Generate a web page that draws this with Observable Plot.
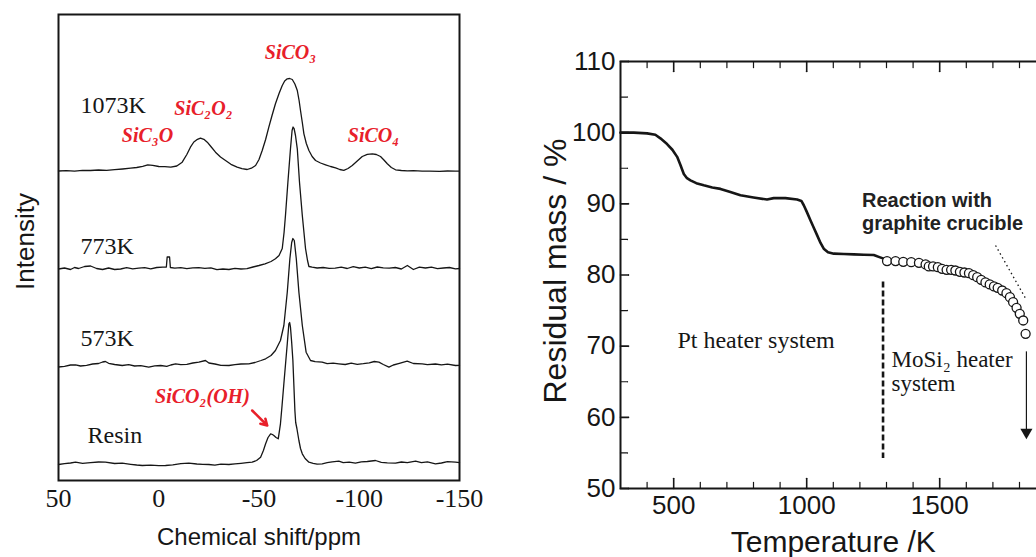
<!DOCTYPE html>
<html><head><meta charset="utf-8">
<script src="https://cdn.jsdelivr.net/npm/d3@7"></script>
<script src="https://cdn.jsdelivr.net/npm/@observablehq/plot@0.6"></script>
<style>
html,body{margin:0;padding:0;background:#fff;overflow:hidden;width:1036px;height:557px;}
#left{position:absolute;left:0;top:0;width:500px;height:557px;}
#right{position:absolute;left:520px;top:0;width:540px;height:557px;}
svg{max-width:none !important;}
</style></head><body>
<div id="left"></div><div id="right"></div>
<script>
// ---------- Left panel: 29Si NMR spectra ----------
const shiftTicks = [50, 0, -50, -100, -150];

const ppm1073 = [50,46,42,38,34,30,26,22,18,14,11,8,5.5,3,0,-3,-6,-9,-11.7,-14,-15.8,-17.5,-19,-20.8,-22.5,-24.2,-26.2,-28.3,-30.8,-33.3,-36,-39.1,-41.5,-44.1,-46.2,-48.3,-50,-51.6,-53.3,-54.9,-56.5,-58.2,-60,-61.6,-62.8,-64.1,-65.3,-66.6,-67.9,-69.1,-70,-70.7,-71.6,-72.4,-73.6,-74.9,-76.5,-78.2,-80.7,-83.2,-85.7,-88.2,-90.3,-92.3,-94.4,-96.5,-99,-101.5,-104,-106.5,-108.5,-110.6,-112.3,-114,-116,-118.1,-121,-124,-127,-131.4,-135,-140,-144,-148,-150];
const int1073 = [309.5,309.8,309.3,310.2,310,310.5,310.2,310.8,311.5,312.3,313,314.2,315.6,315.2,314,313.8,313.3,314.5,318.3,326,333.3,338.5,340.8,342.3,341.2,338.3,333.5,328.3,323.5,320,316.2,313.3,311.8,311,312.3,315,321,330,341,353.3,365,376.7,387,395,399.5,401.7,402,401,396.5,390,380,370,358,346.7,337,330,324,320,317.5,315.7,314,312.7,311,310.2,312,315,319.5,324,326.2,326.7,326,324,320.5,316.7,313,310.7,310,309.6,309.8,309.3,309.4,309.2,309.5,309.3,309.4];

const ppm773 = [50,47,44,42,40,37,34,31,28,25,22,19,16,13,10,7,4,1,-2,-3.8,-4.2,-5.4,-5.8,-8,-11,-14,-17,-20,-23,-26,-29,-32,-35,-38,-41,-44,-47,-50,-53,-56,-58.2,-60,-61.6,-62.5,-63.2,-64.4,-65.7,-66.5,-67,-67.5,-68.2,-69.1,-70.2,-71.6,-73.2,-74.2,-74.9,-76.5,-79,-82,-85,-88,-91,-94,-97,-100,-103,-106,-109,-112,-115,-118,-121,-124,-127,-130,-133,-136,-139,-142,-145,-148,-150];
const int773 = [211.5,212.5,211,213,212,214,214.5,212,211,212.5,211,211.5,212.8,211.6,212.3,212.8,211.7,213,213.3,213.5,223.5,223.5,213,212.3,212.8,211.8,212.6,212.9,212.2,212.7,210.8,211.5,211,212.2,211.5,211.8,213.5,215,216.7,219,221.7,225,232,248,265,298,331.7,350,353.5,352,345,331.7,298.3,265,232,220,214,213.3,212.5,213,212.2,212.4,213.3,212,213.8,212.5,213.3,211.8,213.5,212.7,212.4,213,211.5,215,211,213.3,212.5,213.3,211.8,212.5,213,211.7,212];

const ppm573 = [50,47,44,41.5,39,36,33,30,28,26.6,25,22,18.2,15,12,9,5,2,-1,-4,-6,-8.4,-11,-14,-17,-20,-23.3,-25,-28,-31,-35,-38,-41,-44.9,-48,-51,-53.3,-56,-58.2,-60.7,-62.4,-64.1,-65.4,-66.3,-66.9,-67.6,-68.6,-69.9,-71.6,-73.5,-75.7,-78,-81.5,-84,-87,-89.8,-93,-96,-99,-102,-105,-107.5,-109.8,-112,-114.8,-117,-120,-123.9,-127,-131.4,-134,-138,-141,-144,-148,-150];
const int573 = [113.5,114.2,115.5,115.7,114.5,115.2,116.5,117,118.5,119,117.2,116,115,115.8,114.5,114.9,113.3,114.6,115,114.2,115.5,116.7,115.8,116.2,117.5,118.3,120,117.5,116.5,115.2,115,115.8,116.5,116.7,118,120,121.7,125,130,140,155,188.3,221.7,238,242,240,221.7,188.3,155,128.3,120,118.8,118.3,116.8,117.4,116.7,116,117.3,116.2,116.8,117.6,119,118.3,116,113.3,115.5,117.2,119.3,117,116.7,115.8,116.5,115.6,116.3,115,115.2];

const ppmResin = [50,47,44,41.5,38,34,30,26.6,22,18.2,14,11,8.2,4,0,-3.4,-7,-11,-15,-19,-22,-25,-28,-31,-35,-38,-41,-44,-46.6,-48.8,-50.8,-52.2,-53.3,-54.5,-55.8,-56.7,-57.4,-58.5,-59.6,-60.7,-61.5,-62.4,-63.3,-64.1,-64.9,-65.3,-65.7,-66.3,-66.9,-67.4,-67.9,-68.3,-68.9,-69.4,-69.9,-70.7,-71.6,-73,-74.9,-77,-79,-81.5,-84,-86.5,-89.8,-92,-95,-98.1,-101,-104,-108.1,-111,-114,-118.1,-121,-124,-128.1,-131,-134,-138,-141,-144,-148,-150];
const intResin = [16,16.8,17.5,18.3,17.2,17.8,18.5,18.3,17,17.3,16.2,15.5,15,15.3,14.8,15,15.6,16.8,17.3,16.5,16.2,16,15.4,16.3,16,16.6,17.2,17.8,18.3,20,23.3,30,36.7,43,46.7,46,45,43,41.7,56.7,75,96.7,118,136.7,156.7,158,153.3,138,120,95,70,58,52,46,40,32,26.7,22,18.3,17.2,16.3,16.7,17.8,18.6,19.3,17.8,18.3,17.3,18.6,19,20,18.2,17.6,17.3,18.5,17.8,19.3,17.9,18.6,16.7,17.5,18.8,18.3,17.8];

const sampleNames = ["1073K", "773K", "573K", "Resin"];
const samplePpm = [39, 39, 39, 35.5];
const sampleY = [375, 234, 142, 45];

const peakNames = ["SiCO\u2083", "SiC\u2082O\u2082", "SiC\u2083O", "SiCO\u2084", "SiCO\u2082(OH)"];
const peakPpm = [-65.7, -22.3, 5.6, -107.1, -21.8];
const peakY = [428, 372, 345, 345, 84];

const redArrowPpm = [-46.6, -54.1];
const redArrowY = [70, 55];

// ---------- Right panel: TGA ----------
const tempTicks = [500, 1000, 1500];
const tempMinor = [400, 600, 700, 800, 900, 1100, 1200, 1300, 1400, 1600, 1700, 1800];
const massTicks = [50, 60, 70, 80, 90, 100, 110];
const massMinor = [55, 65, 75, 85, 95, 105];

const tgaTemp = [300,350,400,431,450,475,495,513,525,538,550,563,585,613,645,676,710,751,800,851,876,920,964,980,989,1000,1014,1027,1039,1052,1064,1080,1102,1140,1177,1215,1252,1289,1302,1350,1400,1450,1500,1550,1600,1650,1700,1750];
const tgaMass = [100,100,99.9,99.7,99.2,98.4,97.6,96.6,95.5,94.2,93.6,93.3,92.9,92.6,92.3,92.1,91.7,91.2,90.9,90.6,90.8,90.8,90.6,90.4,89.8,88.9,87.7,86.6,85.6,84.5,83.7,83.2,83.0,82.95,82.9,82.85,82.8,82.3,82.0,81.9,81.7,81.3,80.9,80.5,80.2,79.5,78.5,77.5];

const circTemp = [1302,1334,1363,1393,1422,1447,1459,1475,1493,1509,1526,1543,1559,1576,1593,1610,1626,1641,1656,1672,1688,1704,1718,1735,1751,1764,1776,1789,1801,1814,1823];
const circMass = [81.95,81.95,81.85,81.8,81.71,81.48,81.2,81.2,81.1,80.87,80.73,80.73,80.63,80.45,80.35,80.26,79.98,79.7,79.32,78.95,78.67,78.39,78.2,77.82,77.45,76.89,76.18,75.39,74.55,73.61,71.74];

const dividerTemp = 1287;
const dividerMass = [79.0, 54.2];
const dropTemp = 1826;
const dropMass = [69.2, 57.6];
const dropHeadMass = 57.9;
const reactionTemp = [1710, 1823];
const reactionMass = [84.15, 76.7];

const RED = "#e8202a";
const INK = "#161616";
const SERIF = "'Liberation Serif','Times New Roman',serif";
const SANS = "'Liberation Sans',Arial,sans-serif";

const spectra = [];
[[ppm1073,int1073,"1073K"],[ppm773,int773,"773K"],[ppm573,int573,"573K"],[ppmResin,intResin,"Resin"]]
  .forEach(([xs, ys, s]) => xs.forEach((x, i) => spectra.push({ppm: x, v: ys[i], s})));
const samples = sampleNames.map((t, i) => ({t, x: samplePpm[i], y: sampleY[i]}));
const peaks = peakNames.map((t, i) => ({t, x: peakPpm[i], y: peakY[i]}));

const left = Plot.plot({
  width: 500, height: 557,
  marginLeft: 58, marginRight: 41, marginTop: 14, marginBottom: 77,
  x: {domain: [50, -150]},
  y: {domain: [0, 466], axis: null},
  style: {fontFamily: SERIF, background: "white", color: INK},
  marks: [
    Plot.lineY(spectra, {x: "ppm", y: "v", z: "s", stroke: INK, strokeWidth: 1.3}),
    Plot.frame({stroke: INK, strokeWidth: 2}),
    Plot.axisX(shiftTicks, {tickSize: 0, tickPadding: 8, fontSize: 26, label: null, tickFormat: d => String(d)}),
    Plot.text(samples, {x: "x", y: "y", text: "t", textAnchor: "start", fontSize: 24, fill: INK}),
    Plot.text(peaks, {x: "x", y: "y", text: "t", fill: RED, fontStyle: "italic", fontWeight: "bold", fontSize: 20}),
    Plot.arrow([0], {x1: () => redArrowPpm[0], y1: () => redArrowY[0], x2: () => redArrowPpm[1], y2: () => redArrowY[1], stroke: RED, strokeWidth: 2.5, headLength: 10}),
    Plot.text(["Intensity"], {text: d => d, frameAnchor: "left", textAnchor: "middle", lineAnchor: "middle", dx: -33, dy: -6, rotate: -90, fontFamily: SANS, fontSize: 26, fill: INK}),
    Plot.text(["Chemical shift/ppm"], {text: d => d, frameAnchor: "bottom", textAnchor: "middle", lineAnchor: "middle", dy: 57, fontFamily: SANS, fontSize: 24, fill: INK, ariaLabel: "xtitle"})
  ]
});
left.style.maxWidth = "none";
document.getElementById("left").appendChild(left);
d3.select(left).selectAll('g[aria-label="xtitle"] text').attr("letter-spacing", "1.6px");

const tga = tgaTemp.map((t, i) => ({t, m: tgaMass[i]}));
const circ = circTemp.map((t, i) => ({t, m: circMass[i]}));
const xMin = 300, xMax = 1900, yMin = 50, yMax = 110;
// inward tick stubs: vectors anchored on the frame edges, with a vanishing head (tiny r)
const stub = (data, opts, len, sw) => Plot.vector(data, {...opts, length: len, anchor: "start", r: 0.3, stroke: INK, strokeWidth: sw});

const right = Plot.plot({
  width: 540, height: 557,
  marginLeft: 100, marginRight: 14.4, marginTop: 61, marginBottom: 69,
  x: {domain: [xMin, xMax]},
  y: {domain: [yMin, yMax]},
  style: {fontFamily: SANS, background: "white", color: INK},
  marks: [
    Plot.axisX(tempTicks, {tickSize: 0, tickPadding: 7, fontSize: 26, label: null, tickFormat: d => String(d)}),
    Plot.axisY(massTicks, {tickSize: 0, tickPadding: 5, fontSize: 26, label: null, tickFormat: d => String(d)}),
    Plot.frame({stroke: INK, strokeWidth: 2}),
    Plot.line(tga, {x: "t", y: "m", stroke: INK, strokeWidth: 2.6}),
    Plot.dot(circ, {x: "t", y: "m", r: 4.5, fill: "white", stroke: INK, strokeWidth: 1.3}),
    Plot.ruleX([dividerTemp], {x: d => d, y1: () => dividerMass[0], y2: () => dividerMass[1], stroke: INK, strokeWidth: 2.6, strokeDasharray: "6 3"}),
    Plot.ruleX([dropTemp], {x: d => d, y1: () => dropMass[0], y2: () => dropMass[1], stroke: INK, strokeWidth: 1.2}),
    Plot.dot([dropTemp], {x: d => d, y: () => dropHeadMass, symbol: "triangle", rotate: 180, r: 4.5, fill: INK}),
    Plot.link([0], {x1: () => reactionTemp[0], y1: () => reactionMass[0], x2: () => reactionTemp[1], y2: () => reactionMass[1], stroke: INK, strokeWidth: 1.3, strokeDasharray: "1.5 3"}),
    stub(tempTicks, {x: d => d, y: () => yMin, rotate: 0}, 10, 1.6),
    stub(tempMinor, {x: d => d, y: () => yMin, rotate: 0}, 6, 1.2),
    stub(tempTicks, {x: d => d, y: () => yMax, rotate: 180}, 10, 1.6),
    stub(tempMinor, {x: d => d, y: () => yMax, rotate: 180}, 6, 1.2),
    stub(massTicks, {x: () => xMin, y: d => d, rotate: 90}, 8, 1.6),
    stub(massMinor, {x: () => xMin, y: d => d, rotate: 90}, 7, 1.2),
    Plot.text(["Pt heater system"], {text: d => d, x: () => 514, y: () => 70.8, textAnchor: "start", fontFamily: SERIF, fontSize: 24, fill: INK}),
    Plot.text(["MoSi\u2082 heater", "system"], {text: d => d, x: () => 1319, y: (d, i) => [68.1, 64.8][i], textAnchor: "start", fontFamily: SERIF, fontSize: 23, fill: INK}),
    Plot.text(["Reaction with", "graphite crucible"], {text: d => d, x: () => 1208, y: (d, i) => [90.47, 87.2][i], textAnchor: "start", fontWeight: "bold", fontSize: 20, fill: "#222"}),
    Plot.text(["Residual mass / %"], {text: d => d, frameAnchor: "left", textAnchor: "middle", lineAnchor: "middle", dx: -65, dy: -4, rotate: -90, fontSize: 32, fill: INK}),
    Plot.text(["Temperature /K"], {text: d => d, frameAnchor: "bottom", textAnchor: "middle", lineAnchor: "middle", dy: 54, fontSize: 30, fill: INK})
  ]
});
right.style.maxWidth = "none";
document.getElementById("right").appendChild(right);
</script></body></html>
